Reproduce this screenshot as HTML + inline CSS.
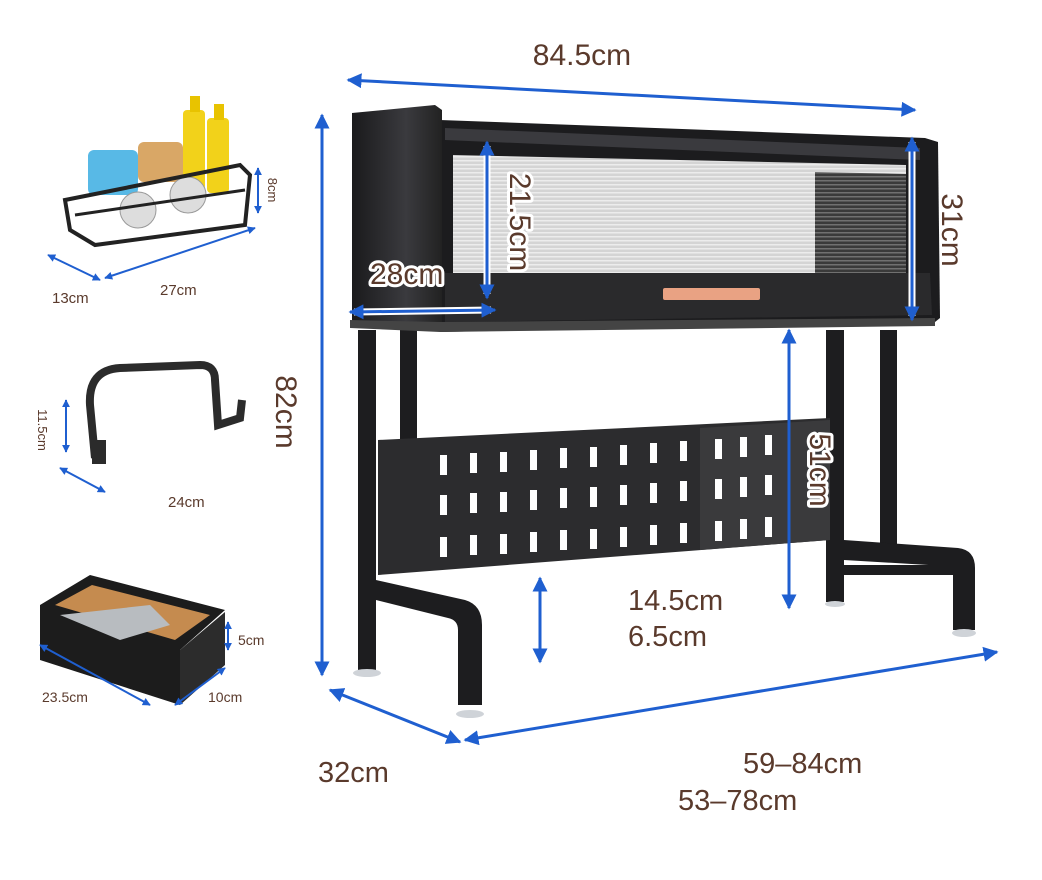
<!DOCTYPE html>
<html><head><meta charset="utf-8"><style>
html,body{margin:0;padding:0;background:#fff}
svg{display:block}
text{font-family:"Liberation Sans",sans-serif;fill:#5a3a2c}
.h{stroke:#fff;stroke-width:6;paint-order:stroke;stroke-linejoin:round}
</style></head><body>
<svg width="1042" height="880" viewBox="0 0 1042 880" xmlns="http://www.w3.org/2000/svg">
<defs>
<marker id="a" viewBox="0 0 10 10" refX="9" refY="5" markerWidth="5" markerHeight="5" orient="auto-start-reverse"><path d="M0,0L10,5L0,10z" fill="#1f5fd0"/></marker>
<marker id="s" viewBox="0 0 10 10" refX="9" refY="5" markerWidth="4" markerHeight="4" orient="auto-start-reverse"><path d="M0,0L10,5L0,10z" fill="#1f5fd0"/></marker>
<pattern id="st" width="10" height="4" patternUnits="userSpaceOnUse"><rect width="10" height="4" fill="#d4d4d4"/><rect width="10" height="1.5" fill="#ececec"/></pattern>
<pattern id="gr" width="10" height="4" patternUnits="userSpaceOnUse"><rect width="10" height="4" fill="#3a3a3a"/><rect width="10" height="1.5" fill="#707070"/></pattern>
<linearGradient id="cap" x1="0" x2="1"><stop offset="0" stop-color="#1a1a1c"/><stop offset="0.6" stop-color="#3a3a3e"/><stop offset="1" stop-color="#222"/></linearGradient>
</defs>

<!-- legs -->
<g fill="#1d1d1f">
<rect x="358" y="330" width="18" height="340"/>
<rect x="400" y="330" width="17" height="240"/>
<path d="M376,580 L465,600 Q482,605 482,625 L482,705 L458,705 L458,630 Q458,620 448,618 L376,600z"/>
<rect x="826" y="330" width="18" height="272"/>
<rect x="880" y="330" width="17" height="218"/>
<path d="M844,540 L958,548 Q975,550 975,568 L975,630 L953,630 L953,575 Q953,566 945,566 L844,560z"/>
<rect x="844" y="565" width="110" height="10"/>
</g>
<g fill="#cfd3d8">
<ellipse cx="367" cy="673" rx="14" ry="4"/><ellipse cx="470" cy="714" rx="14" ry="4"/>
<ellipse cx="835" cy="604" rx="10" ry="3"/><ellipse cx="964" cy="633" rx="12" ry="4"/>
</g>

<!-- perforated panel -->
<path d="M378,440 L830,418 L830,540 L378,575z" fill="#2c2c2e"/>
<path d="M700,428 L830,420 L830,540 L700,550z" fill="#3a3a3c"/>
<g fill="#fff">
<g id="row">
<rect x="440" y="455" width="7" height="20"/><rect x="470" y="453" width="7" height="20"/><rect x="500" y="452" width="7" height="20"/><rect x="530" y="450" width="7" height="20"/><rect x="560" y="448" width="7" height="20"/><rect x="590" y="447" width="7" height="20"/><rect x="620" y="445" width="7" height="20"/><rect x="650" y="443" width="7" height="20"/><rect x="680" y="441" width="7" height="20"/><rect x="715" y="439" width="7" height="20"/><rect x="740" y="437" width="7" height="20"/><rect x="765" y="435" width="7" height="20"/>
</g>
<use href="#row" y="40"/><use href="#row" y="82"/>
</g>

<!-- cabinet -->
<path d="M440,120 L925,138 L938,142 L940,318 L935,322 L440,332z" fill="#1c1c1e"/>
<path d="M445,128 L920,148 L920,160 L445,140z" fill="#3a3a3e"/>
<path d="M453,155 L906,165 L906,273 L453,273z" fill="url(#st)"/>
<path d="M815,172 L906,174 L906,273 L815,273z" fill="url(#gr)"/>
<path d="M445,273 L930,273 L932,315 L445,322z" fill="#2a2a2c"/>
<rect x="663" y="288" width="97" height="12" rx="2" fill="#e9a283"/>
<path d="M352,113 L435,105 L442,110 L442,330 L352,322z" fill="url(#cap)"/>
<path d="M350,320 L440,322 L935,318 L935,326 L440,332 L350,328z" fill="#444"/>

<!-- basket -->
<rect x="183" y="110" width="22" height="80" rx="4" fill="#f2d21a"/>
<rect x="207" y="118" width="22" height="75" rx="4" fill="#f2d21a"/>
<rect x="190" y="96" width="10" height="16" fill="#e8c300"/><rect x="214" y="104" width="10" height="16" fill="#e8c300"/>
<rect x="88" y="150" width="50" height="45" rx="6" fill="#58b9e6"/>
<rect x="138" y="142" width="45" height="40" rx="6" fill="#d9a766"/>
<circle cx="138" cy="210" r="18" fill="#ddd" stroke="#999"/><circle cx="188" cy="195" r="18" fill="#ddd" stroke="#999"/>
<path d="M65,200 L240,165 L250,175 L245,225 L95,245 L70,230z" fill="none" stroke="#222" stroke-width="4"/>
<path d="M75,215 L245,190" stroke="#222" stroke-width="3"/>
<!-- hook -->
<path d="M95,458 L90,405 Q88,370 120,368 L200,365 Q215,365 215,380 L218,425 L240,418 L242,400" fill="none" stroke="#2b2b2b" stroke-width="8"/>
<rect x="92" y="440" width="14" height="24" fill="#2b2b2b"/>
<!-- tray -->
<path d="M40,605 L90,575 L225,610 L180,650 L180,705 L40,660z" fill="#1c1c1c"/>
<path d="M55,605 L92,585 L210,615 L175,640z" fill="#c58b4f"/>
<path d="M60,615 L150,605 L170,625 L120,640z" fill="#b8bcc0"/>
<path d="M180,650 L225,612 L225,665 L180,705z" fill="#2c2c2c"/>

<!-- halo under arrows on cabinet -->
<g stroke="#fff" stroke-width="7" fill="none">
<line x1="912" y1="142" x2="912" y2="316"/>
<line x1="487" y1="146" x2="487" y2="294"/>
<line x1="354" y1="312" x2="491" y2="310"/>
</g>
<!-- arrows -->
<g stroke="#1f5fd0" stroke-width="3" fill="none">
<line x1="348" y1="80" x2="915" y2="110" marker-start="url(#a)" marker-end="url(#a)"/>
<line x1="322" y1="115" x2="322" y2="675" marker-start="url(#a)" marker-end="url(#a)"/>
<line x1="912" y1="138" x2="912" y2="320" marker-start="url(#a)" marker-end="url(#a)"/>
<line x1="487" y1="142" x2="487" y2="298" marker-start="url(#a)" marker-end="url(#a)"/>
<line x1="350" y1="312" x2="495" y2="310" marker-start="url(#a)" marker-end="url(#a)"/>
<line x1="789" y1="330" x2="789" y2="608" marker-start="url(#a)" marker-end="url(#a)"/>
<line x1="540" y1="578" x2="540" y2="662" marker-start="url(#a)" marker-end="url(#a)"/>
<line x1="330" y1="690" x2="460" y2="742" marker-start="url(#a)" marker-end="url(#a)"/>
<line x1="465" y1="740" x2="997" y2="652" marker-start="url(#a)" marker-end="url(#a)"/>
</g>
<g stroke="#1f5fd0" stroke-width="2" fill="none">
<line x1="258" y1="168" x2="258" y2="213" marker-start="url(#s)" marker-end="url(#s)"/>
<line x1="48" y1="255" x2="100" y2="280" marker-start="url(#s)" marker-end="url(#s)"/>
<line x1="105" y1="278" x2="255" y2="228" marker-start="url(#s)" marker-end="url(#s)"/>
<line x1="66" y1="400" x2="66" y2="452" marker-start="url(#s)" marker-end="url(#s)"/>
<line x1="60" y1="468" x2="105" y2="492" marker-start="url(#s)" marker-end="url(#s)"/>
<line x1="228" y1="622" x2="228" y2="650" marker-start="url(#s)" marker-end="url(#s)"/>
<line x1="40" y1="645" x2="150" y2="705" marker-start="url(#s)" marker-end="url(#s)"/>
<line x1="175" y1="705" x2="225" y2="668" marker-start="url(#s)" marker-end="url(#s)"/>
</g>

<!-- labels -->
<text x="582" y="65" font-size="30" text-anchor="middle">84.5cm</text>
<text class="h" x="370" y="284" font-size="30">28cm</text>
<text x="628" y="610" font-size="29">14.5cm</text>
<text x="628" y="646" font-size="29">6.5cm</text>
<text x="318" y="782" font-size="29">32cm</text>
<text x="743" y="773" font-size="29">59–84cm</text>
<text x="678" y="810" font-size="29">53–78cm</text>
<text transform="translate(942,230) rotate(90)" font-size="30" text-anchor="middle">31cm</text>
<text class="h" transform="translate(510,222) rotate(90)" font-size="30" text-anchor="middle">21.5cm</text>
<text transform="translate(276,412) rotate(90)" font-size="30" text-anchor="middle">82cm</text>
<text class="h" transform="translate(810,470) rotate(90)" font-size="30" text-anchor="middle">51cm</text>
<text transform="translate(268,190) rotate(90)" font-size="13" text-anchor="middle">8cm</text>
<text transform="translate(38,430) rotate(90)" font-size="13" text-anchor="middle">11.5cm</text>
<text x="52" y="303" font-size="15">13cm</text>
<text x="160" y="295" font-size="15">27cm</text>
<text x="168" y="507" font-size="15">24cm</text>
<text x="238" y="645" font-size="14">5cm</text>
<text x="42" y="702" font-size="14">23.5cm</text>
<text x="208" y="702" font-size="14">10cm</text>
</svg>
</body></html>
